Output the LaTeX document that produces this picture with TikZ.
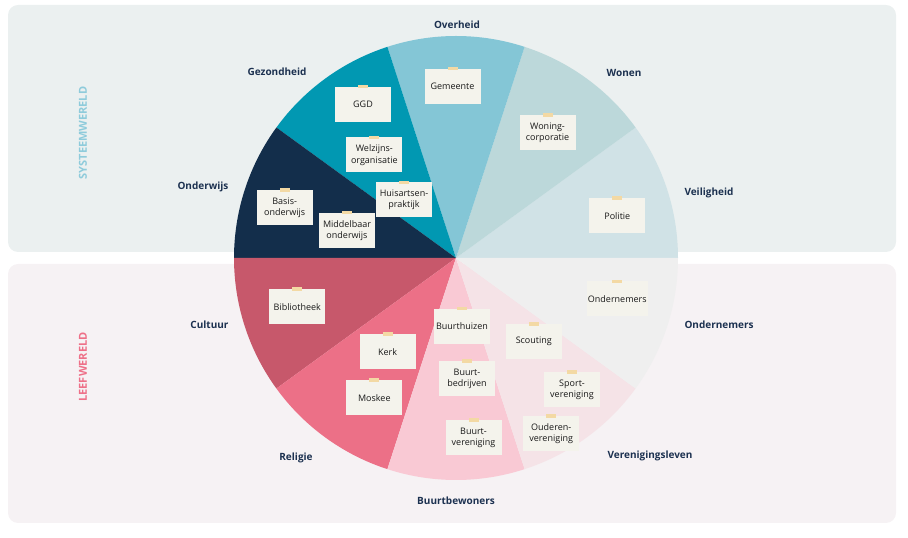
\documentclass[tikz,border=0pt]{standalone}
\usepackage{fontspec}
\setmainfont{Open Sans}
\usetikzlibrary{positioning}
\definecolor{syspanel}{HTML}{EBF0F0}
\definecolor{leefpanel}{HTML}{F6F2F4}
\definecolor{veilig}{HTML}{D0E2E6}
\definecolor{wonen}{HTML}{BCD8DA}
\definecolor{overheid}{HTML}{84C6D6}
\definecolor{gezond}{HTML}{0198B2}
\definecolor{onderwijs}{HTML}{132E4B}
\definecolor{cultuur}{HTML}{C7586B}
\definecolor{religie}{HTML}{EC7087}
\definecolor{bewoners}{HTML}{F9C9D4}
\definecolor{vereniging}{HTML}{F5E3E7}
\definecolor{ondernemer}{HTML}{EFEFEF}
\definecolor{labelcol}{HTML}{1C3150}
\definecolor{notecol}{HTML}{F4F3EC}
\definecolor{tapecol}{HTML}{F3D9A4}
\definecolor{systxt}{HTML}{8ECBDB}
\definecolor{leeftxt}{HTML}{EE7088}

\begin{document}
\begin{tikzpicture}[x=1pt,y=1pt,
    cat/.style={font=\bfseries\fontsize{10}{12}\selectfont, text=labelcol},
    world/.style={rotate=90, font=\bfseries\fontsize{11}{13}\selectfont},
    note/.style={fill=notecol, minimum width=56pt, minimum height=35pt,
      inner sep=1pt, align=center, text=black!90,
      font=\fontsize{9}{11.5}\selectfont},
    tape/.style={fill=tapecol}
  ]
  \useasboundingbox (0,0) rectangle (908,538);
  \fill[syspanel, rounded corners=10pt] (8,286) rectangle (896,533);
  \fill[leefpanel, rounded corners=10pt] (8,15) rectangle (896,274);

  \node[world, text=systxt] (systeem) at (83,405) {SYSTEEMWERELD};
  \node[world, text=leeftxt] (leef) at (83,171) {LEEFWERELD};

  % pie
  \coordinate (centre) at (456,280);
  \foreach \a/\col in {0/veilig,36/wonen,72/overheid,108/gezond,144/onderwijs,
      180/cultuur,216/religie,252/bewoners,288/vereniging,324/ondernemer}
    \fill[\col] (centre) -- ++(\a:222) arc[start angle=\a, delta angle=36, radius=222] -- cycle;

  % sector names
  \node[cat] (overheidlbl) at (457,513) {Overheid};
  \node[cat] (gezondlbl) at (277,466) {Gezondheid};
  \node[cat] (wonenlbl) at (624,465) {Wonen};
  \node[cat, anchor=east] (onderwijslbl) at (232,351) {Onderwijs};
  \node[cat, anchor=west] (veiliglbl) at (681,345) {Veiligheid};
  \node[cat, anchor=east] (cultuurlbl) at (232,213) {Cultuur};
  \node[cat, anchor=west] (ondernemerlbl) at (681,213) {Ondernemers};
  \node[cat] (religielbl) at (296,80) {Religie};
  \node[cat] (verenigingslbl) at (650,82) {Verenigingsleven};
  \node[cat] (bewonerslbl) at (456,37) {Buurtbewoners};

  % sticky notes
  \foreach \nm/\x/\y/\txt in {
      gemeente/452.5/451.5/Gemeente,
      ggd/363/433.7/GGD,
      welzijn/374.3/383/{Welzijns-\\organisatie},
      huisarts/404/338/{Huisartsen-\\praktijk},
      basis/284.7/330.3/{Basis-\\onderwijs},
      middelbaar/347/307.5/{Middelbaar\\onderwijs},
      woning/547.5/405.3/{Woning-\\corporatie},
      politie/617.3/322.2/Politie,
      ondernemers/617.3/239/Ondernemers,
      bibliotheek/297.3/231.3/Bibliotheek,
      kerk/387.5/186.3/Kerk,
      moskee/374.3/140.2/Moskee,
      buurthuizen/462/211.5/Buurthuizen,
      bedrijven/467/159.2/{Buurt-\\bedrijven},
      buurtver/473.5/100.2/{Buurt-\\vereniging},
      scouting/533.8/196.3/Scouting,
      sport/572/148.2/{Sport-\\vereniging},
      ouderen/551.2/104.2/{Ouderen-\\vereniging}}{
    \node[note] (\nm) at (\x,\y) {\txt};
    \fill[tape] ([xshift=-5pt,yshift=-1.7pt]\nm.north) rectangle ([xshift=5pt,yshift=1.7pt]\nm.north);
  }
\end{tikzpicture}
\end{document}
